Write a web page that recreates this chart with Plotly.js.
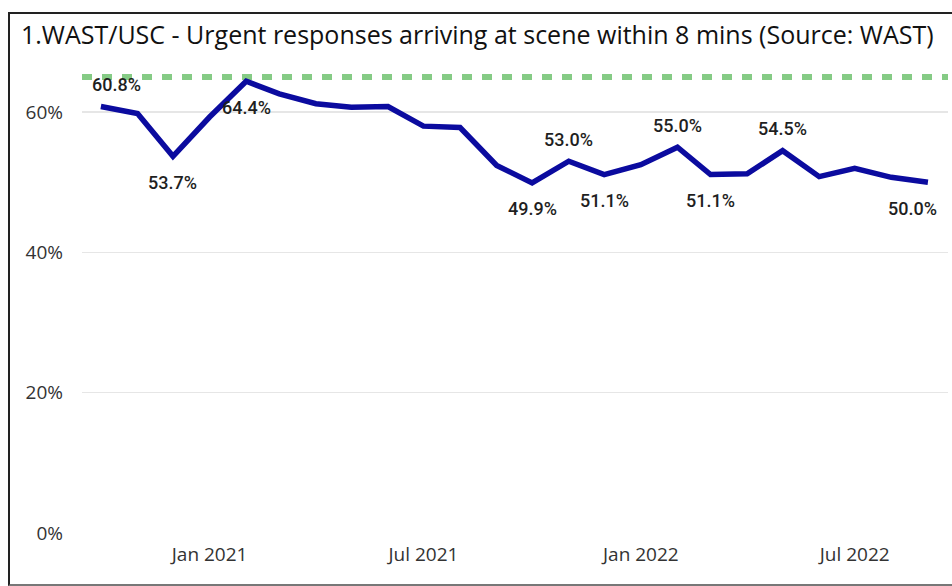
<!DOCTYPE html>
<html>
<head>
<meta charset="utf-8">
<script src="https://cdn.plot.ly/plotly-3.0.1.min.js"></script>
<style>
  html, body { margin: 0; padding: 0; background: #fff; }
  #chart { position: absolute; left: 0; top: 0; width: 952px; height: 586px; }
  #frame { position: absolute; left: 8px; top: 12px; width: 960px; height: 570px;
           border-left: 2px solid #222; border-top: 2px solid #222; border-bottom: 2px solid #777;
           pointer-events: none; }
</style>
</head>
<body>
<div id="chart"></div>
<div id="frame"></div>
<script>
// ---- data ----
const months = [
  "2020-10-01","2020-11-01","2020-12-01","2021-01-01","2021-02-01","2021-03-01",
  "2021-04-01","2021-05-01","2021-06-01","2021-07-01","2021-08-01","2021-09-01",
  "2021-10-01","2021-11-01","2021-12-01","2022-01-01","2022-02-01","2022-03-01",
  "2022-04-01","2022-05-01","2022-06-01","2022-07-01","2022-08-01","2022-09-01"
];
const urgentPct = [
  60.8, 59.8, 53.7, 59.3, 64.4, 62.6,
  61.2, 60.7, 60.8, 58.0, 57.8, 52.4,
  49.9, 53.0, 51.1, 52.5, 55.0, 51.1,
  51.2, 54.5, 50.8, 52.0, 50.7, 50.0
];
const targetPct = 65;
const labelledMonths = ["2020-10-01","2020-12-01","2021-02-01","2021-10-01","2021-11-01",
  "2021-12-01","2022-02-01","2022-03-01","2022-05-01","2022-09-01"];
const yTickVals = [0, 20, 40, 60];

// ---- label placement (layout only) ----
const above = new Set(["2020-10-01","2021-11-01","2022-02-01","2022-05-01"]);

const annotations = labelledMonths.map(m => {
  const i = months.indexOf(m);
  let xs = 0;
  if (i === 0) xs = 16;
  if (i === months.length - 1) xs = -15;
  return {
    x: m, y: urgentPct[i], xref: 'x', yref: 'y',
    text: urgentPct[i].toFixed(1) + '%',
    showarrow: false, xshift: xs, yshift: above.has(m) ? 22 : -26,
    font: { family: 'Roboto, sans-serif', size: 18, weight: 500, color: '#1F1F1F' }
  };
});

const traces = [{
  x: months, y: urgentPct, type: 'scatter', mode: 'lines',
  line: { color: '#0B0B9F', width: 5.5 }, hoverinfo: 'x+y'
}];

const layout = {
  width: 952, height: 586,
  paper_bgcolor: '#fff', plot_bgcolor: '#fff',
  margin: { l: 82, r: 4, t: 63, b: 53 },
  showlegend: false,
  title: {
    text: '1.WAST/USC - Urgent responses arriving at scene within 8 mins (Source: WAST)',
    xref: 'container', yref: 'container', x: 21 / 952, xanchor: 'left',
    y: 1 - 35 / 586, yanchor: 'middle',
    font: { family: 'Open Sans, sans-serif', size: 25, color: '#111' }
  },
  xaxis: {
    type: 'date', range: ['2020-09-15', '2022-09-18'],
    dtick: 'M6', tick0: '2021-01-01', tickformat: '%b %Y',
    showgrid: false, zeroline: false, showline: false, ticks: '', ticklabelstandoff: 8,
    tickfont: { family: 'Open Sans, sans-serif', size: 19, color: '#333' }
  },
  yaxis: {
    range: [0, 67], tickvals: yTickVals, ticktext: yTickVals.map(v => v + '%'),
    showgrid: true, gridcolor: '#E6E6E6', gridwidth: 1.5,
    zeroline: false, showline: false, ticks: '', ticklabelstandoff: 18,
    tickfont: { family: 'Open Sans, sans-serif', size: 19, color: '#333' }
  },
  shapes: [{
    type: 'line', xref: 'paper', x0: 0, x1: 1, yref: 'y', y0: targetPct, y1: targetPct,
    line: { color: '#85CB85', width: 6, dash: '10px,10px' }, layer: 'below'
  }],
  annotations: annotations
};

Plotly.newPlot('chart', traces, layout, { displayModeBar: false, staticPlot: true });
</script>
</body>
</html>
